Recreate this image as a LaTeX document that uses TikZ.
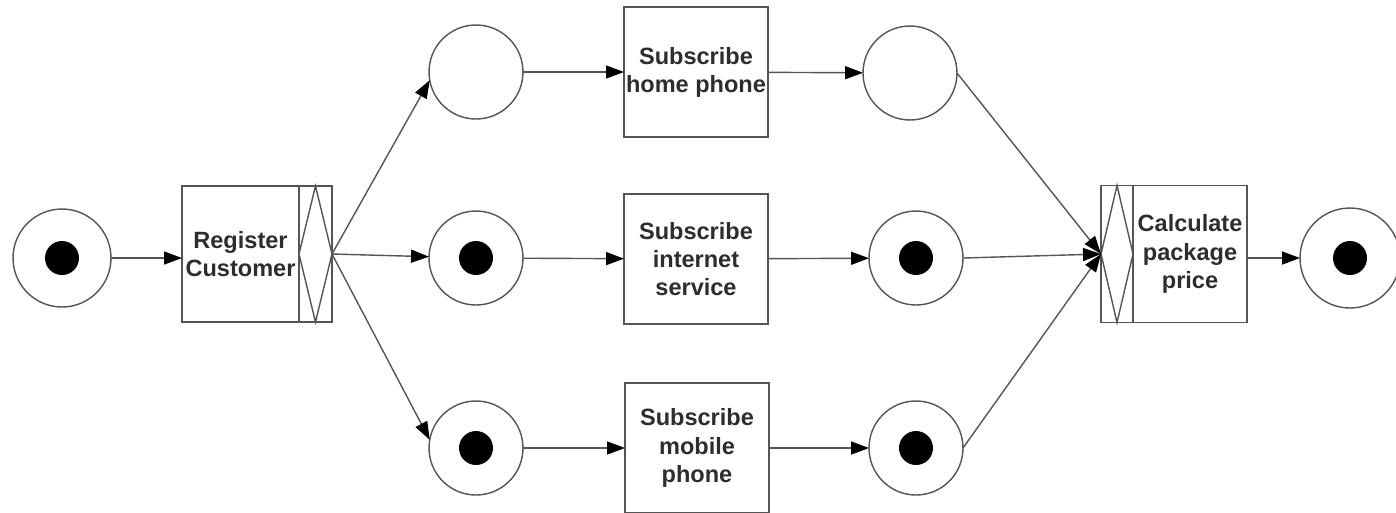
\documentclass[tikz,border=0pt]{standalone}
\usepackage{fontspec}
\setmainfont{Liberation Sans}
\usetikzlibrary{arrows.meta,positioning}
\definecolor{linecolor}{RGB}{85,85,85}
\definecolor{labelcolor}{RGB}{45,45,45}

\tikzset{
    place/.style={circle,draw=linecolor,line width=0.8pt,minimum size=1.88cm,inner sep=0pt,outer sep=0pt},
    token/.style={circle,fill=black,minimum size=0.68cm,inner sep=0pt},
    task/.style={rectangle,draw=linecolor,line width=0.8pt,minimum width=2.88cm,minimum height=2.6cm,
        inner sep=0pt,outer sep=0pt,align=center,text=labelcolor,font=\fontsize{13.4}{16}\selectfont\bfseries},
    gate/.style={rectangle,draw=linecolor,line width=0.8pt,minimum width=0.66cm,inner sep=0pt,outer sep=0pt},
    flow/.style={draw=linecolor,line width=0.8pt,-{Triangle[length=0.36cm,width=0.26cm,color=black]}}
}

\begin{document}
\begin{tikzpicture}[x=0.02cm,y=-0.02cm]
    \useasboundingbox (0,0) rectangle (1396,512);

    % Start place and split task
    \node[place,minimum size=1.96cm] (pstart) at (62,258) {};
    \node[token] (tstart) at (pstart) {};
    \node[task,minimum width=2.34cm,minimum height=2.72cm] (reg) at (240.5,254) {Register\\Customer};
    \node[gate,minimum height=2.72cm,right=0pt of reg] (regsplit) {};
    \draw[linecolor,line width=0.8pt] (regsplit.north) -- (regsplit.west) -- (regsplit.south) -- (regsplit.east) -- cycle;

    % Places before the subscriptions
    \node[place] (ptop) at (476,72) {};
    \node[place] (pmid) at (476,258) {};
    \node[token] (tmid) at (pmid) {};
    \node[place] (pbot) at (476,448) {};
    \node[token] (tbot) at (pbot) {};

    % Subscriptions
    \node[task] (home) at (696,72) {Subscribe\\home phone};
    \node[task] (internet) at (696,259) {Subscribe\\internet\\service};
    \node[task] (mobile) at (697,448) {Subscribe\\mobile\\phone};

    % Places after the subscriptions
    \node[place] (qtop) at (910,73) {};
    \node[place] (qmid) at (916,258) {};
    \node[token] (tqmid) at (qmid) {};
    \node[place] (qbot) at (916,448) {};
    \node[token] (tqbot) at (qbot) {};

    % Join task and end place
    \node[task,minimum width=2.28cm,minimum height=2.74cm] (calc) at (1190,254) {Calculate\\package\\price};
    \node[gate,minimum width=0.64cm,minimum height=2.74cm,left=0pt of calc] (joinsplit) {};
    \draw[linecolor,line width=0.8pt] (joinsplit.north) -- (joinsplit.west) -- (joinsplit.south) -- (joinsplit.east) -- cycle;
    \node[place,minimum size=2.0cm] (pend) at (1350,258) {};
    \node[token] (tend) at (pend) {};

    % Flows
    \draw[flow] (pstart) -- (reg.west |- pstart);
    \draw[flow] (regsplit.east) -- (ptop.190);
    \draw[flow] (regsplit.east) -- (pmid);
    \draw[flow] (regsplit.east) -- (pbot.170);
    \foreach \p/\t/\q in {ptop/home/qtop, pmid/internet/qmid, pbot/mobile/qbot}{
        \draw[flow] (\p) -- (\t);
        \draw[flow] (\t) -- (\q);
        \draw[flow] (\q.east) -- (joinsplit.west);
    }
    \draw[flow] (calc.east |- pend) -- (pend);
\end{tikzpicture}
\end{document}
